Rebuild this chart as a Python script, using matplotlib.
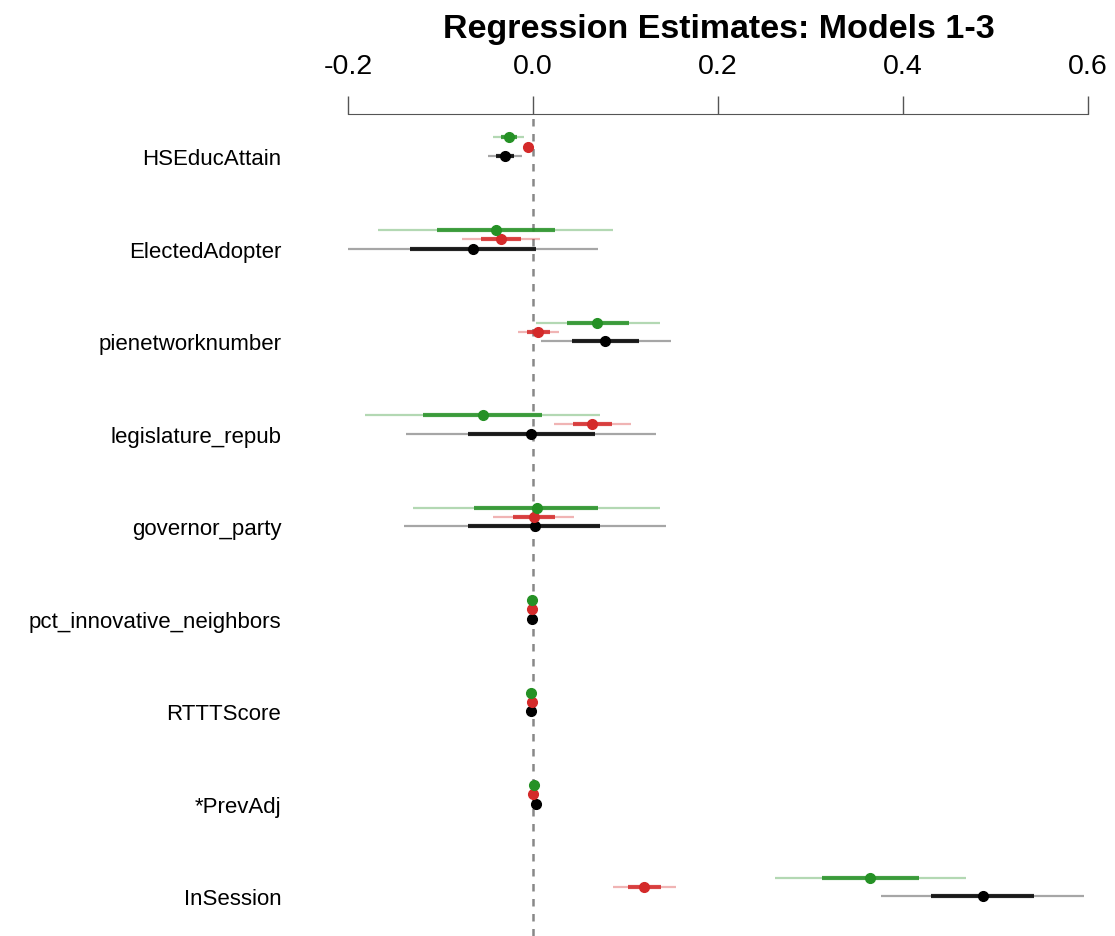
import matplotlib.pyplot as plt
import numpy as np

plt.rcParams['font.family'] = ['Liberation Sans', 'DejaVu Sans']

variables = ["HSEducAttain", "ElectedAdopter", "pienetworknumber", "legislature_repub",
             "governor_party", "pct_innovative_neighbors", "RTTTScore", "*PrevAdj", "InSession"]

# model 1 (black)
m1_est = [-0.030, -0.065, 0.078, -0.002, 0.002, -0.001, -0.002, 0.003, 0.487]
m1_lo1 = [-0.040, -0.133, 0.042, -0.070, -0.070, -0.001, -0.002, 0.003, 0.430]
m1_hi1 = [-0.020, 0.003, 0.115, 0.067, 0.073, -0.001, -0.002, 0.003, 0.542]
m1_lo2 = [-0.049, -0.200, 0.009, -0.137, -0.139, -0.001, -0.002, 0.003, 0.376]
m1_hi2 = [-0.012, 0.070, 0.149, 0.133, 0.144, -0.001, -0.002, 0.003, 0.596]

# model 2 (red)
m2_est = [-0.005, -0.035, 0.005, 0.064, 0.001, -0.001, -0.001, 0.000, 0.120]
m2_lo1 = [-0.007, -0.056, -0.006, 0.043, -0.022, -0.001, -0.001, 0.000, 0.103]
m2_hi1 = [-0.003, -0.013, 0.018, 0.085, 0.024, -0.001, -0.001, 0.000, 0.138]
m2_lo2 = [-0.008, -0.077, -0.016, 0.023, -0.043, -0.001, -0.001, 0.000, 0.087]
m2_hi2 = [-0.002, 0.008, 0.028, 0.106, 0.044, -0.001, -0.001, 0.000, 0.155]

# model 3 (green)
m3_est = [-0.026, -0.040, 0.069, -0.054, 0.004, -0.001, -0.002, 0.001, 0.364]
m3_lo1 = [-0.035, -0.104, 0.037, -0.119, -0.064, -0.001, -0.002, 0.001, 0.312]
m3_hi1 = [-0.017, 0.024, 0.104, 0.010, 0.070, -0.001, -0.002, 0.001, 0.417]
m3_lo2 = [-0.043, -0.168, 0.003, -0.182, -0.130, -0.001, -0.002, 0.001, 0.262]
m3_hi2 = [-0.010, 0.087, 0.137, 0.072, 0.137, -0.001, -0.002, 0.001, 0.468]

xticks = [-0.2, 0.0, 0.2, 0.4, 0.6]

fig = plt.figure(figsize=(11.15, 9.37), dpi=100)
ax = fig.add_axes([0.2996, 0.0, 0.6803, 0.8773])

rows = np.arange(len(variables))
models = [
    (m1_est, m1_lo1, m1_hi1, m1_lo2, m1_hi2, "black", 0.0),
    (m2_est, m2_lo1, m2_hi1, m2_lo2, m2_hi2, "#d42a2a", -0.1),
    (m3_est, m3_lo1, m3_hi1, m3_lo2, m3_hi2, "#259125", -0.2),
]

ax.axvline(0, color="#888888", lw=1.8, ls=(0, (3, 3)), zorder=1)

for est, lo1, hi1, lo2, hi2, col, off in models:
    y = rows + off
    ax.hlines(y, lo2, hi2, color=col, alpha=0.35, lw=1.6, zorder=2)
    ax.hlines(y, lo1, hi1, color=col, alpha=0.85, lw=3.0, zorder=3)
    ax.plot(est, y, "o", color=col, ms=7, zorder=4)

ax.set_xlim(-0.215, 0.605)
ax.set_ylim(8.43, -0.454)

ax.xaxis.tick_top()
ax.set_xticks(xticks)
ax.set_xticklabels(["%.1f" % t for t in xticks], fontsize=20.5)
ax.tick_params(axis="x", length=13, width=1, color="#555555", pad=12.5)

ax.set_yticks(rows)
ax.set_yticklabels(variables, fontsize=16)
ax.tick_params(axis="y", length=0, pad=38)

for s in ["left", "right", "bottom"]:
    ax.spines[s].set_visible(False)
ax.spines["top"].set_bounds(-0.2, 0.6)
ax.spines["top"].set_color("#555555")

fig.text(0.6444, 1 - 38 / 937, "Regression Estimates: Models 1-3", ha="center", va="baseline",
         fontsize=24.5, fontweight="bold")

fig.savefig("out.png", dpi=100)
